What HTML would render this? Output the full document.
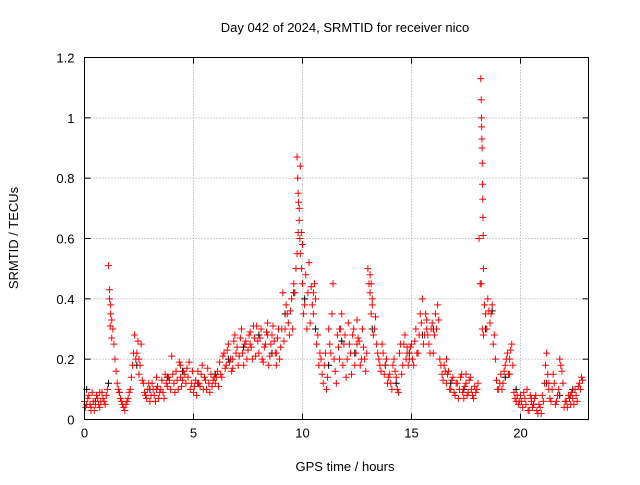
<!DOCTYPE html>
<html><head><meta charset="utf-8"><style>
body{margin:0;background:#fff}
svg text{font-family:"Liberation Sans",sans-serif;font-size:13px;fill:#000}
</style></head><body>
<svg id="chart" width="640" height="480" xmlns="http://www.w3.org/2000/svg">
<text x="345" y="32" text-anchor="middle">Day 042 of 2024, SRMTID for receiver nico</text>
<text transform="translate(18,238) rotate(-90)" text-anchor="middle">SRMTID / TECUs</text>
<text x="345" y="471" text-anchor="middle">GPS time / hours</text>
<g id="grid"></g>
<g id="axes"></g>
<g id="black-series"></g>
<g id="red-series"></g>
<rect x="84.5" y="57.5" width="504" height="362" fill="none" stroke="#000" stroke-width="1"/>
</svg>
<script>
const xTicks=[0,5,10,15,20];
const yTicks=[0,0.2,0.4,0.6,0.8,1,1.2];
const yTickLabels=["0","0.2","0.4","0.6","0.8","1","1.2"];
const redBase=[.06,.05,.08,.04,.06,.05,.07,.04,.09,.06,
.08,.51,.38,.30,.20,.12,.09,.06,.04,.05,
.07,.10,.18,.28,.22,.15,.25,.12,.08,.10,
.06,.12,.08,.14,.07,.10,.09,.15,.11,.13,
.21,.12,.16,.10,.18,.13,.15,.17,.19,.12,
.09,.13,.16,.11,.18,.14,.10,.12,.15,.13,
.12,.16,.19,.14,.22,.18,.25,.20,.17,.28,
.24,.21,.30,.18,.26,.23,.29,.20,.27,.31,
.22,.30,.19,.25,.32,.21,.28,.26,.18,.30,
.24,.42,.30,.35,.28,.40,.45,.50,.62,.84,
.45,.38,.30,.52,.44,.35,.40,.28,.22,.15,
.18,.10,.30,.22,.45,.16,.28,.20,.35,.25,
.14,.32,.22,.28,.18,.33,.26,.20,.24,.16,
.50,.42,.38,.30,.25,.20,.16,.22,.18,.12,
.15,.10,.20,.14,.09,.25,.18,.28,.22,.20,
.25,.18,.30,.22,.35,.40,.28,.33,.25,.30,
.22,.35,.38,.20,.15,.18,.12,.16,.10,.14,
.08,.12,.10,.15,.07,.12,.09,.14,.08,.11,
.10,.60,.45,.28,.35,.40,.32,.38,.28,.13,
.10,.15,.12,.18,.22,.20,.25,.09,.06,.05,
.08,.04,.07,.10,.03,.06,.05,.08,.02,.04,
.08,.12,.22,.10,.06,.15,.05,.08,.20,.16,
.04,.06,.08,.05,.07,.10,.06,.12,.14];
const redBase2=[.04,.07,.05,.09,.03,.08,.05,.06,.07,.05,
.10,.40,.33,.25,.16,.10,.07,.05,.03,.06,
.09,.14,.22,.20,.26,.18,.13,.09,.07,.12,
.08,.10,.06,.11,.09,.13,.07,.12,.14,.10,
.15,.09,.13,.19,.11,.16,.12,.14,.10,.16,
.11,.08,.12,.15,.10,.13,.17,.09,.11,.14,
.14,.11,.15,.21,.17,.23,.19,.16,.26,.22,
.18,.27,.22,.25,.20,.28,.24,.31,.21,.26,
.27,.20,.24,.29,.18,.25,.31,.22,.27,.20,
.30,.26,.38,.32,.36,.30,.42,.55,.70,.50,
.35,.48,.42,.32,.38,.45,.25,.18,.20,.12,
.22,.14,.25,.35,.20,.12,.24,.30,.18,.28,
.20,.25,.15,.30,.22,.27,.18,.30,.20,.22,
.45,.35,.28,.34,.22,.18,.25,.15,.20,.14,
.12,.18,.16,.10,.22,.15,.25,.20,.18,.24,
.20,.26,.22,.28,.32,.25,.35,.28,.22,.32,
.28,.30,.33,.18,.13,.16,.15,.10,.13,.09,
.12,.07,.14,.09,.11,.08,.13,.10,.07,.09,
.12,.45,.30,.38,.30,.36,.35,.25,.20,.10,
.12,.10,.16,.20,.15,.23,.18,.07,.08,.06,
.06,.09,.05,.03,.08,.04,.07,.03,.05,.02,
.06,.18,.15,.07,.10,.12,.06,.10,.18,.12,
.06,.04,.07,.09,.05,.08,.11,.10,.13];
const redBaseStart=0, redBase2Start=0.05, redBaseStep=0.1;
const redExtraT=[1.15,1.2,1.25,1.18,9.75,9.78,9.8,9.82,9.85,9.88,9.9,9.95,10.0,18.18,18.2,18.21,18.22,18.23,18.24,18.25,18.26,18.27,18.28,18.29,18.3,13.1,13.15,13.2,0.3,0.7,2.5,3.3,4.4,6.8,7.6,8.4,8.8,10.5,11.7,12.5,14.8,15.7,16.6,17.5,19.5,20.5,21.3,22.3];
const redExtraV=[.43,.35,.27,.31,.87,.80,.75,.72,.66,.60,.55,.62,.58,1.13,1.06,1.0,.97,.93,.90,.85,.78,.73,.67,.61,.50,.48,.45,.40,.03,.09,.20,.10,.14,.20,.25,.28,.22,.42,.30,.25,.24,.30,.20,.15,.15,.07,.12,.08];
const blackT=[0.1,0.5,1.1,1.6,2.4,3.0,3.8,4.5,5.2,6.0,6.6,7.3,8.0,8.6,9.2,9.6,10.1,10.6,11.2,11.8,12.4,13.2,13.8,14.3,14.9,15.5,16.0,16.8,17.4,18.4,18.7,19.3,19.8,20.6,21.2,21.8,22.4];
const blackV=[.10,.06,.12,.09,.18,.10,.14,.16,.12,.15,.20,.24,.28,.22,.35,.42,.40,.30,.18,.26,.22,.30,.18,.12,.22,.28,.30,.12,.10,.30,.36,.14,.10,.05,.12,.08,.10];
const X0=84.5,X1=588.5,Y0=419.5,Y1=57.5,XMAX=23.12,YMAX=1.2;
const xs=t=>X0+t/XMAX*(X1-X0);
const ys=v=>Y0-v/YMAX*(Y0-Y1);
const NS="http://www.w3.org/2000/svg";
function mk(tag,attrs,parent){const e=document.createElementNS(NS,tag);for(const k in attrs)e.setAttribute(k,attrs[k]);parent.appendChild(e);return e;}
const grid=document.getElementById('grid'),axes=document.getElementById('axes');
xTicks.forEach((t,i)=>{const x=xs(t);
 if(i>0){const g=mk('line',{x1:x,x2:x,y1:Y1,y2:Y0,stroke:'#a0a0a0','stroke-dasharray':'1,2'},grid);}
 mk('line',{x1:x,x2:x,y1:Y0,y2:Y0-6,stroke:'#000'},axes);mk('line',{x1:x,x2:x,y1:Y1,y2:Y1+6,stroke:'#000'},axes);
 const tx=mk('text',{x:x,y:Y0+18,'text-anchor':'middle'},axes);tx.textContent=t;
 
 });
yTicks.forEach((v,i)=>{const y=ys(v);
 if(i>0&&i<yTicks.length-1){const g=mk('line',{x1:X0,x2:X1,y1:y,y2:y,stroke:'#a0a0a0','stroke-dasharray':'1,2'},grid);}
 mk('line',{x1:X0,x2:X0+6,y1:y,y2:y,stroke:'#000'},axes);mk('line',{x1:X1,x2:X1-6,y1:y,y2:y,stroke:'#000'},axes);
 const tx=mk('text',{x:X0-10,y:y+5,'text-anchor':'end'},axes);tx.textContent=yTickLabels[i];
 
 });
function plus(t,v,color,parent,name){const x=xs(t),y=ys(v);
 const p=mk('path',{d:`M${x-3.5},${y}h7M${x},${y-3.5}v7`,stroke:color,'stroke-width':1,fill:'none'},parent);
 
 }
const bg=document.getElementById('black-series'),rg=document.getElementById('red-series');
blackT.forEach((t,i)=>plus(t,blackV[i],'#000',bg,'black-point'));
redBase.forEach((v,i)=>plus(redBaseStart+i*redBaseStep,v,'#ff0000',rg,'red-point'));
redBase2.forEach((v,i)=>plus(redBase2Start+i*redBaseStep,v,'#ff0000',rg,'red-point'));
redExtraT.forEach((t,i)=>plus(t,redExtraV[i],'#ff0000',rg,'red-point'));
</script>
</body></html>
